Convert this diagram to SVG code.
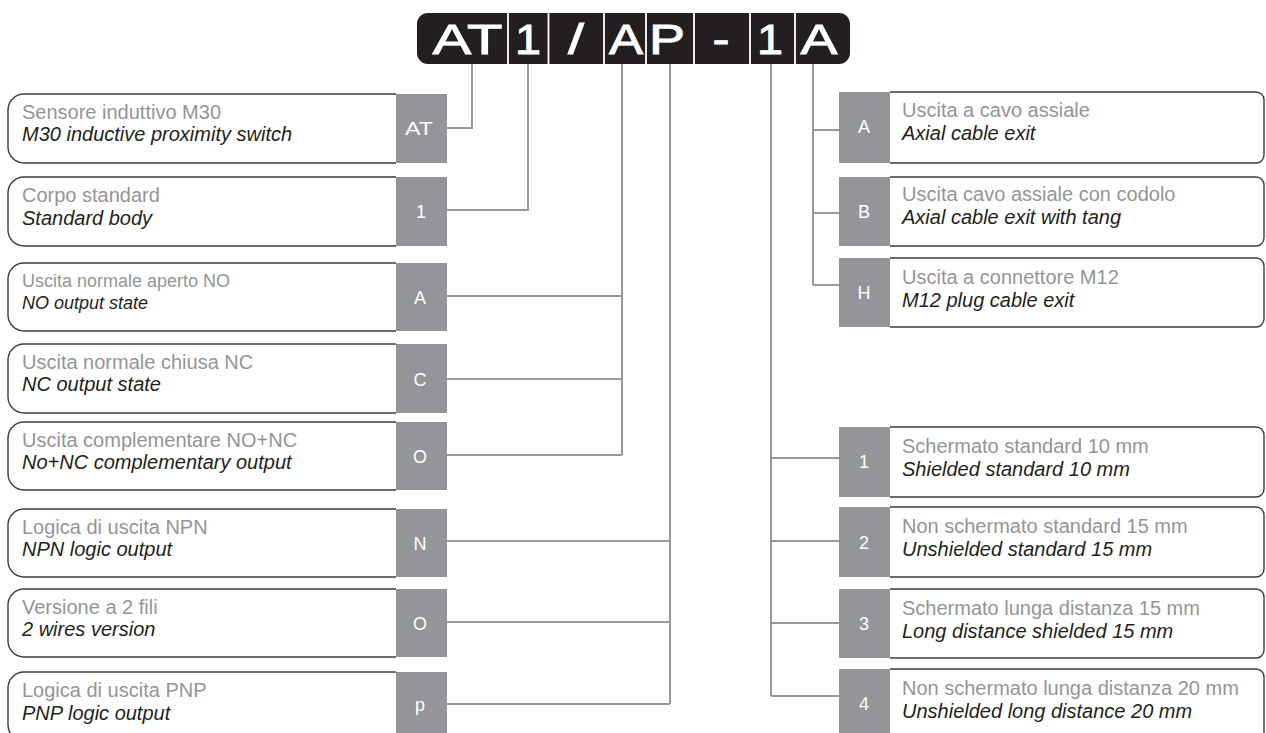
<svg xmlns="http://www.w3.org/2000/svg" width="1266" height="733" viewBox="0 0 1266 733">
<style>
.box{fill:#ffffff;stroke:#3c3c3c;stroke-width:1.4}
.tag{fill:#939598}
.code{font-family:"Liberation Sans",Arial,sans-serif;font-size:18px;fill:#ffffff;text-anchor:middle}
.it{font-family:"Liberation Sans",Arial,sans-serif;font-size:20px;fill:#939598}
.en{font-family:"Liberation Sans",Arial,sans-serif;font-size:20px;font-style:italic;fill:#231f20}
.hd{font-family:"Liberation Sans",Arial,sans-serif;font-size:42px;fill:#ffffff;stroke:#ffffff;stroke-width:0.9;text-anchor:middle}
.wire{fill:none;stroke:#97989b;stroke-width:2}
.sep{stroke:#ffffff;stroke-width:1.8}
</style>
<rect width="1266" height="733" fill="#ffffff"/>
<g id="header">
<rect x="417" y="13" width="433" height="51" rx="11" fill="#231f20"/>
<line class="sep" x1="508" y1="12" x2="508" y2="65"/>
<line class="sep" x1="548.5" y1="12" x2="548.5" y2="65"/>
<line class="sep" x1="604" y1="12" x2="604" y2="65"/>
<line class="sep" x1="646" y1="12" x2="646" y2="65"/>
<line class="sep" x1="694" y1="12" x2="694" y2="65"/>
<line class="sep" x1="750" y1="12" x2="750" y2="65"/>
<line class="sep" x1="795" y1="12" x2="795" y2="65"/>
<text class="hd" x="467.5" y="54" textLength="70" lengthAdjust="spacingAndGlyphs">AT</text>
<text class="hd" x="528" y="54" textLength="26" lengthAdjust="spacingAndGlyphs">1</text>
<text class="hd" x="576" y="54" textLength="16" lengthAdjust="spacingAndGlyphs">/</text>
<text class="hd" x="626" y="54" textLength="34" lengthAdjust="spacingAndGlyphs">A</text>
<text class="hd" x="667" y="54" textLength="36" lengthAdjust="spacingAndGlyphs">P</text>
<text class="hd" x="721" y="54" textLength="17" lengthAdjust="spacingAndGlyphs">-</text>
<text class="hd" x="770" y="54" textLength="26" lengthAdjust="spacingAndGlyphs">1</text>
<text class="hd" x="819" y="54" textLength="37" lengthAdjust="spacingAndGlyphs">A</text>
</g>
<g id="connectors">
<path class="wire" d="M447,128 H472 V64"/>
<path class="wire" d="M447,210 H528 V64"/>
<path class="wire" d="M447,296 H622 M447,379 H622 M447,455 H622 M622,64 V455"/>
<path class="wire" d="M447,541 H670 M447,622 H670 M447,704 H670 M670,64 V704"/>
<path class="wire" d="M813,64 V285 M813,130 H839 M813,213 H839 M813,285 H839"/>
<path class="wire" d="M771,64 V696 M771,458 H839 M771,541 H839 M771,623 H839 M771,696 H839"/>
</g>
<g id="opt-AT">
<path class="box" d="M396,94 H24 A16,16 0 0 0 8,110 V147 A16,16 0 0 0 24,163 H396"/>
<rect class="tag" x="396" y="94" width="51" height="69"/>
<text class="code" x="419" y="135" textLength="28" lengthAdjust="spacingAndGlyphs">AT</text>
<text class="it" x="22" y="119">Sensore induttivo M30</text>
<text class="en" x="22" y="141">M30 inductive proximity switch</text>
</g>
<g id="opt-1">
<path class="box" d="M396,177 H24 A16,16 0 0 0 8,193 V230 A16,16 0 0 0 24,246 H396"/>
<rect class="tag" x="396" y="177" width="51" height="69"/>
<text class="code" x="421" y="218">1</text>
<text class="it" x="22" y="202">Corpo standard</text>
<text class="en" x="22" y="225">Standard body</text>
</g>
<g id="opt-A">
<path class="box" d="M396,263 H24 A16,16 0 0 0 8,279 V315 A16,16 0 0 0 24,331 H396"/>
<rect class="tag" x="396" y="263" width="51" height="68"/>
<text class="code" x="420" y="304">A</text>
<text class="it" x="22" y="287" style="font-size:18px">Uscita normale aperto NO</text>
<text class="en" x="22" y="309" style="font-size:18px">NO output state</text>
</g>
<g id="opt-C">
<path class="box" d="M396,344 H24 A16,16 0 0 0 8,360 V397 A16,16 0 0 0 24,413 H396"/>
<rect class="tag" x="396" y="344" width="51" height="69"/>
<text class="code" x="420" y="386">C</text>
<text class="it" x="22" y="369">Uscita normale chiusa NC</text>
<text class="en" x="22" y="391">NC output state</text>
</g>
<g id="opt-O">
<path class="box" d="M396,422 H24 A16,16 0 0 0 8,438 V474 A16,16 0 0 0 24,490 H396"/>
<rect class="tag" x="396" y="422" width="51" height="68"/>
<text class="code" x="420" y="463">O</text>
<text class="it" x="22" y="447">Uscita complementare NO+NC</text>
<text class="en" x="22" y="469">No+NC complementary output</text>
</g>
<g id="opt-N">
<path class="box" d="M396,509 H24 A16,16 0 0 0 8,525 V561 A16,16 0 0 0 24,577 H396"/>
<rect class="tag" x="396" y="509" width="51" height="68"/>
<text class="code" x="420" y="550">N</text>
<text class="it" x="22" y="534">Logica di uscita NPN</text>
<text class="en" x="22" y="556">NPN logic output</text>
</g>
<g id="opt-O2">
<path class="box" d="M396,589 H24 A16,16 0 0 0 8,605 V641 A16,16 0 0 0 24,657 H396"/>
<rect class="tag" x="396" y="589" width="51" height="68"/>
<text class="code" x="420" y="630">O</text>
<text class="it" x="22" y="614">Versione a 2 fili</text>
<text class="en" x="22" y="636">2 wires version</text>
</g>
<g id="opt-P">
<path class="box" d="M396,672 H24 A16,16 0 0 0 8,688 V725 A16,16 0 0 0 24,741 H396"/>
<rect class="tag" x="396" y="672" width="51" height="69"/>
<text class="code" x="420" y="711">p</text>
<text class="it" x="22" y="697">Logica di uscita PNP</text>
<text class="en" x="22" y="720">PNP logic output</text>
</g>
<g id="exit-A">
<path class="box" d="M890,92 H1256 A8,8 0 0 1 1264,100 V155 A8,8 0 0 1 1256,163 H890"/>
<rect class="tag" x="839" y="92" width="51" height="71"/>
<text class="code" x="864" y="133">A</text>
<text class="it" x="902" y="117">Uscita a cavo assiale</text>
<text class="en" x="902" y="140">Axial cable exit</text>
</g>
<g id="exit-B">
<path class="box" d="M890,177 H1256 A8,8 0 0 1 1264,185 V238 A8,8 0 0 1 1256,246 H890"/>
<rect class="tag" x="839" y="177" width="51" height="69"/>
<text class="code" x="864" y="218">B</text>
<text class="it" x="902" y="201">Uscita cavo assiale con codolo</text>
<text class="en" x="902" y="224">Axial cable exit with tang</text>
</g>
<g id="exit-H">
<path class="box" d="M890,258 H1256 A8,8 0 0 1 1264,266 V319 A8,8 0 0 1 1256,327 H890"/>
<rect class="tag" x="839" y="258" width="51" height="69"/>
<text class="code" x="864" y="299">H</text>
<text class="it" x="902" y="284">Uscita a connettore M12</text>
<text class="en" x="902" y="307">M12 plug cable exit</text>
</g>
<g id="dist-1">
<path class="box" d="M890,427 H1256 A8,8 0 0 1 1264,435 V489 A8,8 0 0 1 1256,497 H890"/>
<rect class="tag" x="839" y="427" width="51" height="70"/>
<text class="code" x="864" y="468">1</text>
<text class="it" x="902" y="453">Schermato standard 10 mm</text>
<text class="en" x="902" y="476">Shielded standard 10 mm</text>
</g>
<g id="dist-2">
<path class="box" d="M890,507 H1256 A8,8 0 0 1 1264,515 V569 A8,8 0 0 1 1256,577 H890"/>
<rect class="tag" x="839" y="507" width="51" height="70"/>
<text class="code" x="864" y="549">2</text>
<text class="it" x="902" y="533">Non schermato standard 15 mm</text>
<text class="en" x="902" y="556">Unshielded standard 15 mm</text>
</g>
<g id="dist-3">
<path class="box" d="M890,589 H1256 A8,8 0 0 1 1264,597 V650 A8,8 0 0 1 1256,658 H890"/>
<rect class="tag" x="839" y="589" width="51" height="69"/>
<text class="code" x="864" y="630">3</text>
<text class="it" x="902" y="615">Schermato lunga distanza 15 mm</text>
<text class="en" x="902" y="638">Long distance shielded 15 mm</text>
</g>
<g id="dist-4">
<path class="box" d="M890,669 H1256 A8,8 0 0 1 1264,677 V732 A8,8 0 0 1 1256,740 H890"/>
<rect class="tag" x="839" y="669" width="51" height="71"/>
<text class="code" x="864" y="710">4</text>
<text class="it" x="902" y="695">Non schermato lunga distanza 20 mm</text>
<text class="en" x="902" y="718">Unshielded long distance 20 mm</text>
</g>
</svg>
